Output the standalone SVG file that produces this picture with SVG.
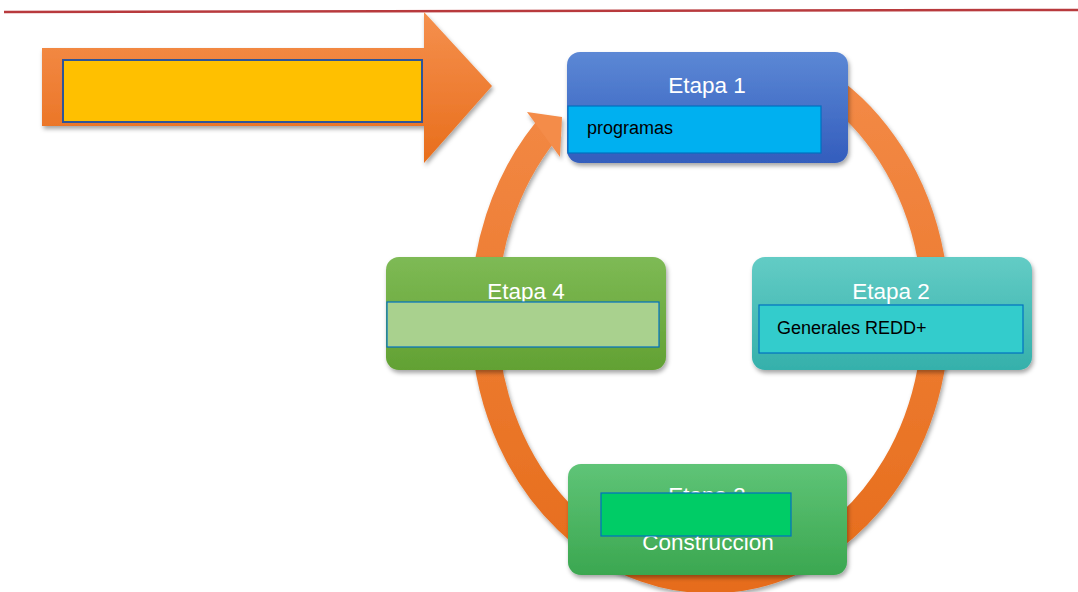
<svg xmlns="http://www.w3.org/2000/svg" width="1078" height="592" viewBox="0 0 1078 592">
<style>
.title{font-family:"Liberation Sans",Arial,sans-serif;font-size:22.5px;fill:#ffffff;text-anchor:middle}
.lbl{font-family:"Liberation Sans",Arial,sans-serif;font-size:18px;fill:#000000}
.inner{stroke:#0070C0;stroke-width:1.2}
</style>
<defs>
<filter id="sh" x="-10%" y="-10%" width="120%" height="130%">
<feDropShadow dx="1.5" dy="3" stdDeviation="2" flood-color="#000" flood-opacity="0.35"/>
</filter>
<linearGradient id="gOr" x1="0" y1="0" x2="0" y2="1">
<stop offset="0" stop-color="#F5904E"/><stop offset="1" stop-color="#E86E1C"/>
</linearGradient>
<linearGradient id="gRing" gradientUnits="userSpaceOnUse" x1="0" y1="40" x2="0" y2="590">
<stop offset="0" stop-color="#F48C4A"/><stop offset="1" stop-color="#E66C1A"/>
</linearGradient>
<linearGradient id="g1" x1="0" y1="0" x2="0" y2="1">
<stop offset="0" stop-color="#5C88D5"/><stop offset="1" stop-color="#335DBD"/>
</linearGradient>
<linearGradient id="g2" x1="0" y1="0" x2="0" y2="1">
<stop offset="0" stop-color="#63CCC5"/><stop offset="1" stop-color="#35B0AB"/>
</linearGradient>
<linearGradient id="g3" x1="0" y1="0" x2="0" y2="1">
<stop offset="0" stop-color="#5FC477"/><stop offset="1" stop-color="#3BA750"/>
</linearGradient>
<linearGradient id="g4" x1="0" y1="0" x2="0" y2="1">
<stop offset="0" stop-color="#7EBA55"/><stop offset="1" stop-color="#62A133"/>
</linearGradient>
</defs>
<line x1="4" y1="12" x2="1078" y2="10" stroke="#B83A3D" stroke-width="2.5"/>
<g id="connectors">
<g filter="url(#sh)">
<path d="M825,85 A226 266 0 1 1 546,131" fill="none" stroke="url(#gRing)" stroke-width="27"/>
<polygon points="527,112 562,117 560,157" fill="#F48C4A"/>
</g>
</g>
<g id="big-arrow" filter="url(#sh)">
<path d="M42,48 L424,48 L424,12 L492,86 L424,163 L424,126 L42,126 Z" fill="url(#gOr)"/>
<rect x="63" y="60" width="359" height="62" fill="#FFC000" stroke="#2F5597" stroke-width="2"/>
</g>
<g id="etapa1">
<rect x="567" y="52" width="281" height="111" rx="13" fill="url(#g1)" filter="url(#sh)"/>
<text class="title" x="707" y="93">Etapa 1</text>
<rect class="inner" x="568" y="106" width="253" height="47" fill="#00B0F0"/>
<text class="lbl" x="587" y="134">programas</text>
</g>
<g id="etapa2">
<rect x="752" y="257" width="280" height="113" rx="13" fill="url(#g2)" filter="url(#sh)"/>
<text class="title" x="891" y="299">Etapa 2</text>
<rect class="inner" x="759" y="305" width="264" height="48" fill="#33CCCC"/>
<text class="lbl" x="777" y="334">Generales REDD+</text>
</g>
<g id="etapa3">
<rect x="568" y="464" width="279" height="111" rx="13" fill="url(#g3)" filter="url(#sh)"/>
<text class="title" x="707" y="503">Etapa 3</text>
<text class="title" x="708" y="550" font-size="23">Construccion</text>
<rect class="inner" x="601" y="493" width="190" height="43" fill="#00CC66"/>
</g>
<g id="etapa4">
<rect x="386" y="257" width="280" height="113" rx="13" fill="url(#g4)" filter="url(#sh)"/>
<text class="title" x="526" y="299">Etapa 4</text>
<rect class="inner" x="387" y="302" width="272" height="45" fill="#A9D18E"/>
</g>
</svg>
